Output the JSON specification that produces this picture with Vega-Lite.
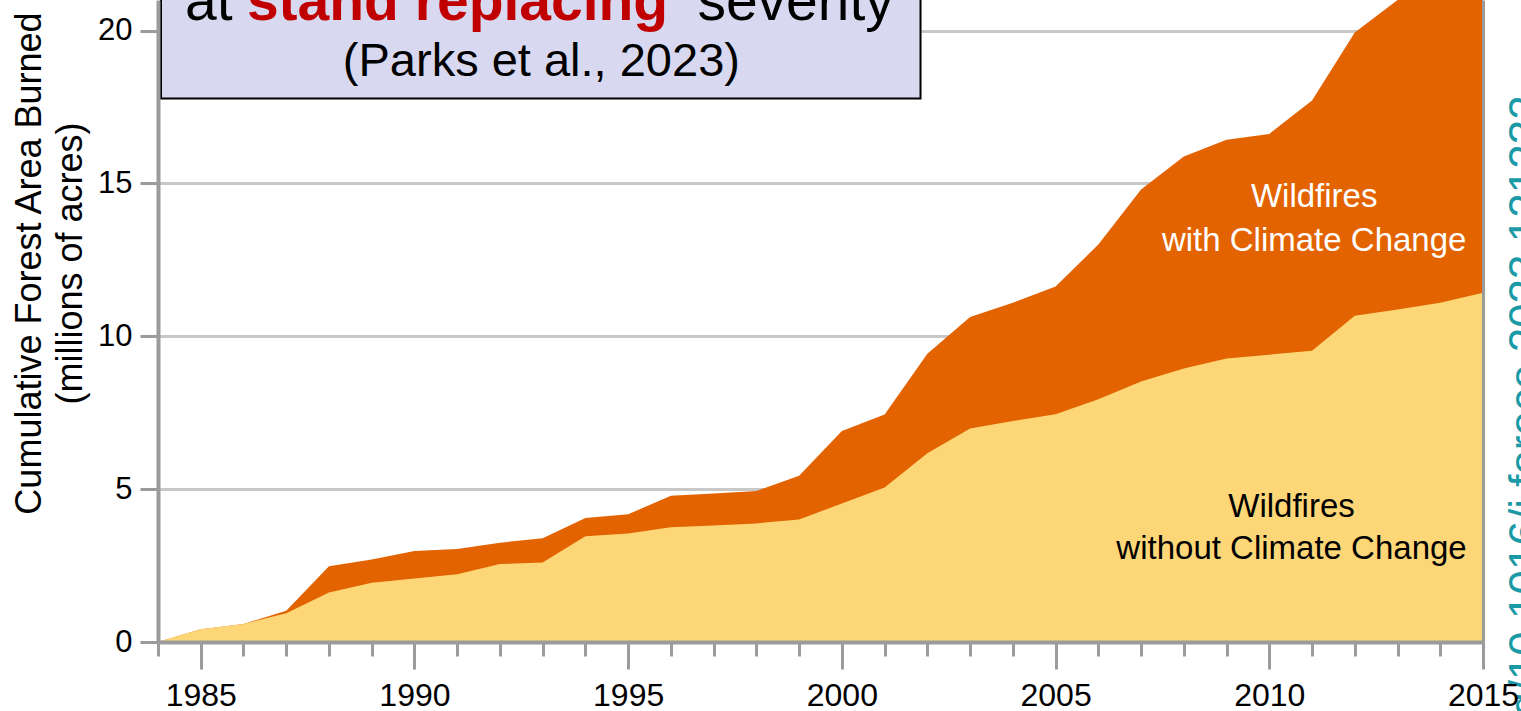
{
  "$schema": "https://vega.github.io/schema/vega-lite/v6.json",
  "width": 1325,
  "height": 642,
  "autosize": {"type": "none"},
  "padding": {"left": 158, "top": 0, "right": 38, "bottom": 69},
  "background": "white",
  "config": {"view": {"stroke": null}, "font": "Liberation Sans"},
  "data": {
    "values": [
      {"year": 1984, "without": 0.0, "total": 0.0},
      {"year": 1985, "without": 0.42, "total": 0.42},
      {"year": 1986, "without": 0.59, "total": 0.59},
      {"year": 1987, "without": 0.94, "total": 1.02},
      {"year": 1988, "without": 1.62, "total": 2.48},
      {"year": 1989, "without": 1.94, "total": 2.7},
      {"year": 1990, "without": 2.08, "total": 2.98},
      {"year": 1991, "without": 2.22, "total": 3.04},
      {"year": 1992, "without": 2.55, "total": 3.25},
      {"year": 1993, "without": 2.6, "total": 3.39},
      {"year": 1994, "without": 3.46, "total": 4.06},
      {"year": 1995, "without": 3.55, "total": 4.18},
      {"year": 1996, "without": 3.75, "total": 4.78},
      {"year": 1997, "without": 3.81, "total": 4.86},
      {"year": 1998, "without": 3.88, "total": 4.94},
      {"year": 1999, "without": 4.01, "total": 5.44},
      {"year": 2000, "without": 4.53, "total": 6.9},
      {"year": 2001, "without": 5.05, "total": 7.44},
      {"year": 2002, "without": 6.17, "total": 9.43},
      {"year": 2003, "without": 6.98, "total": 10.63},
      {"year": 2004, "without": 7.23, "total": 11.1},
      {"year": 2005, "without": 7.45, "total": 11.63},
      {"year": 2006, "without": 7.94, "total": 13.0},
      {"year": 2007, "without": 8.52, "total": 14.8},
      {"year": 2008, "without": 8.95, "total": 15.88},
      {"year": 2009, "without": 9.27, "total": 16.43},
      {"year": 2010, "without": 9.4, "total": 16.62},
      {"year": 2011, "without": 9.53, "total": 17.71},
      {"year": 2012, "without": 10.67, "total": 19.94},
      {"year": 2013, "without": 10.88, "total": 21.0},
      {"year": 2014, "without": 11.1, "total": 22.3},
      {"year": 2015, "without": 11.42, "total": 23.5}
    ]
  },
  "resolve": {"axis": {"x": "independent", "y": "independent"}},
  "layer": [
    {
      "mark": {"type": "area", "color": "#E36300", "clip": true},
      "encoding": {
        "x": {
          "field": "year", "type": "quantitative",
          "scale": {"domain": [1984, 2015], "nice": false, "zero": false},
          "axis": {
            "orient": "bottom",
            "values": [1985, 1990, 1995, 2000, 2005, 2010, 2015],
            "format": "d",
            "tickSize": 27,
            "tickWidth": 3,
            "tickColor": "#9B9B9B",
            "domainColor": "#9B9B9B",
            "domainWidth": 4,
            "labelFontSize": 32,
            "labelColor": "black",
            "labelFont": "Liberation Sans",
            "labelPadding": 11,
            "labelOverlap": false,
            "labelFlush": false,
            "grid": false,
            "title": null,
            "zindex": 1
          }
        },
        "y": {
          "field": "total", "type": "quantitative",
          "scale": {"domain": [0, 21], "nice": false},
          "axis": {
            "orient": "left",
            "values": [5, 10, 15, 20],
            "grid": true,
            "gridColor": "#C8C8C8",
            "gridWidth": 3,
            "domain": false,
            "ticks": false,
            "labels": false,
            "title": null,
            "zindex": 0
          }
        },
        "y2": {"datum": 0}
      }
    },
    {
      "mark": {"type": "area", "color": "#FDD777", "clip": true},
      "encoding": {
        "x": {
          "field": "year", "type": "quantitative",
          "scale": {"domain": [1984, 2015], "nice": false, "zero": false},
          "axis": {
            "orient": "bottom",
            "values": [1984,1985,1986,1987,1988,1989,1990,1991,1992,1993,1994,1995,1996,1997,1998,1999,2000,2001,2002,2003,2004,2005,2006,2007,2008,2009,2010,2011,2012,2013,2014,2015],
            "tickSize": 14,
            "tickWidth": 3,
            "tickColor": "#9B9B9B",
            "domain": false,
            "labels": false,
            "grid": false,
            "title": null,
            "zindex": 1
          }
        },
        "y": {
          "field": "without", "type": "quantitative",
          "scale": {"domain": [0, 21], "nice": false},
          "axis": {
            "orient": "left",
            "values": [0, 5, 10, 15, 20],
            "grid": false,
            "domain": true,
            "domainColor": "#9B9B9B",
            "domainWidth": 4,
            "ticks": true,
            "tickSize": 18,
            "tickWidth": 3,
            "tickColor": "#9B9B9B",
            "labelFontSize": 31,
            "labelColor": "black",
            "labelFont": "Liberation Sans",
            "labelPadding": 8,
            "labelFlush": false,
            "title": ["Cumulative Forest Area Burned", "(millions of acres)"],
            "titleFont": "Liberation Sans",
            "titleFontSize": 36,
            "titleFontWeight": "normal",
            "titleColor": "black",
            "titleAngle": -90,
            "titleX": -146,
            "titleY": 263,
            "titleAlign": "center",
            "titleBaseline": "top",
            "titleLineHeight": 41,
            "zindex": 1
          }
        },
        "y2": {"datum": 0}
      }
    },
    {
      "data": {"values": [{}]},
      "mark": {"type": "rect", "fill": "#D8D8F0", "stroke": "black", "strokeWidth": 2},
      "encoding": {
        "x": {"datum": 1984.07, "type": "quantitative", "axis": null},
        "x2": {"datum": 2001.84},
        "y": {
          "datum": 17.78, "type": "quantitative",
          "axis": {"orient": "right", "domain": true, "domainColor": "#9B9B9B", "domainWidth": 3, "ticks": false, "labels": false, "grid": false, "title": null, "zindex": 1}
        },
        "y2": {"datum": 24}
      }
    },
    {
      "data": {"values": [{}]},
      "mark": {"type": "text", "fontSize": 47, "font": "Liberation Sans", "color": "black", "align": "center", "baseline": "alphabetic"},
      "encoding": {
        "x": {"datum": 1992.97, "type": "quantitative", "axis": null},
        "y": {"datum": 18.5, "type": "quantitative", "axis": null},
        "text": {"value": "(Parks et al., 2023)"}
      }
    },
    {
      "data": {"values": [{}]},
      "mark": {"type": "text", "fontSize": 57, "font": "Liberation Sans", "color": "black", "align": "left", "baseline": "alphabetic"},
      "encoding": {
        "x": {"datum": 1984.63, "type": "quantitative", "axis": null},
        "y": {"datum": 20.36, "type": "quantitative", "axis": null},
        "text": {"value": "at"}
      }
    },
    {
      "data": {"values": [{}]},
      "mark": {"type": "text", "fontSize": 57, "font": "Liberation Sans", "fontWeight": "bold", "color": "#C00000", "align": "left", "baseline": "alphabetic"},
      "encoding": {
        "x": {"datum": 1986.08, "type": "quantitative", "axis": null},
        "y": {"datum": 20.36, "type": "quantitative", "axis": null},
        "text": {"value": "stand replacing"}
      }
    },
    {
      "data": {"values": [{}]},
      "mark": {"type": "text", "fontSize": 57, "font": "Liberation Sans", "color": "black", "align": "left", "baseline": "alphabetic"},
      "encoding": {
        "x": {"datum": 1996.62, "type": "quantitative", "axis": null},
        "y": {"datum": 20.36, "type": "quantitative", "axis": null},
        "text": {"value": "severity"}
      }
    },
    {
      "data": {"values": [{}]},
      "mark": {"type": "text", "fontSize": 33, "font": "Liberation Sans", "color": "white", "align": "center", "baseline": "middle", "lineBreak": "\n", "lineHeight": 44},
      "encoding": {
        "x": {"datum": 2011.05, "type": "quantitative", "axis": null},
        "y": {"datum": 14.57, "type": "quantitative", "axis": null},
        "text": {"value": "Wildfires\nwith Climate Change"}
      }
    },
    {
      "data": {"values": [{}]},
      "mark": {"type": "text", "fontSize": 33, "font": "Liberation Sans", "color": "black", "align": "center", "baseline": "middle", "lineBreak": "\n", "lineHeight": 42},
      "encoding": {
        "x": {"datum": 2010.52, "type": "quantitative", "axis": null},
        "y": {"datum": 4.43, "type": "quantitative", "axis": null},
        "text": {"value": "Wildfires\nwithout Climate Change"}
      }
    },
    {
      "data": {"values": [{}]},
      "mark": {"type": "text", "fontSize": 44, "font": "Liberation Sans", "color": "#1A99A6", "align": "right", "baseline": "alphabetic", "angle": -90},
      "encoding": {
        "x": {"datum": 2016.33, "type": "quantitative", "axis": null},
        "y": {"datum": 17.88, "type": "quantitative", "axis": null},
        "text": {"value": "https://doi.org/10.1016/j.foreco.2023.121232"}
      }
    }
  ]
}
